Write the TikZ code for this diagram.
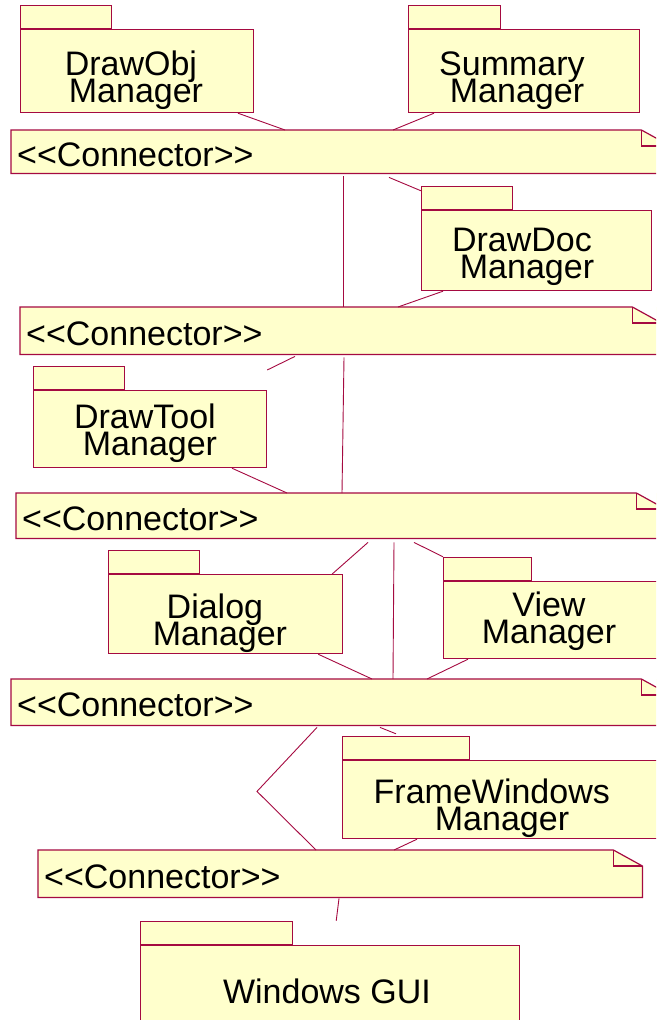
\documentclass[tikz,border=0pt]{standalone}
\usepackage{fontspec}
\setmainfont{Liberation Sans}
\definecolor{umlline}{RGB}{165,10,65}
\definecolor{umlfill}{RGB}{255,255,204}
% text face used for every label of the diagram
\newcommand\umlfont{\fontsize{34}{27}\selectfont\lineskiplimit=-1000pt\relax}
% guillemet-style stereotype, kept as plain angle brackets
\newcommand\stereo[1]{<\kern0pt<#1>\kern0pt>}

\begin{document}
\begin{tikzpicture}[x=1pt, y=-1pt,
  ink/.style={draw=umlline, line width=1.2pt},
  pkgbody/.style={ink, fill=umlfill, inner sep=0pt, anchor=north west},
  pkgtab/.style={ink, fill=umlfill, inner sep=0pt, anchor=south west, minimum height=23},
  pkgname/.style={font=\umlfont, align=center, anchor=base, inner sep=0pt},
  notebody/.style={fill=umlfill, inner sep=0pt, inner xsep=6, anchor=north west,
    font=\umlfont, align=left, text height=29, text depth=0},
  link/.style={draw=umlline, line width=0.9pt},
]
\path[use as bounding box, clip] (0,0) rectangle (656,1020);
\fill[white] (0,0) rectangle (656,1020);

% ---------- packages (name nodes sit on the baseline of their last line) ----------
\node[pkgbody, minimum width=233, minimum height=83] (dobj) at (20,29) {};
\node[pkgtab, minimum width=91] (dobjtab) at (dobj.north west) {};
\node[pkgname] (dobjname) at (136,102) {DrawObj\hspace*{.3em}\\Manager};

\node[pkgbody, minimum width=231, minimum height=83] (summ) at (408,29) {};
\node[pkgtab, minimum width=92] (summtab) at (summ.north west) {};
\node[pkgname] (summname) at (517,102) {Summary\hspace*{.3em}\\Manager};

\node[pkgbody, minimum width=230, minimum height=80] (ddoc) at (421,210) {};
\node[pkgtab, minimum width=91] (ddoctab) at (ddoc.north west) {};
\node[pkgname] (ddocname) at (527,278) {DrawDoc\hspace*{.3em}\\Manager};

\node[pkgbody, minimum width=233, minimum height=77] (dtool) at (33,390) {};
\node[pkgtab, minimum width=91] (dtooltab) at (dtool.north west) {};
\node[pkgname] (dtoolname) at (150,455) {DrawTool\hspace*{.3em}\\Manager};

\node[pkgbody, minimum width=234, minimum height=79] (dlg) at (108,574) {};
\node[pkgtab, minimum width=91] (dlgtab) at (dlg.north west) {};
\node[pkgname] (dlgname) at (220,645) {Dialog\hspace*{.3em}\\Manager};

\node[pkgbody, minimum width=217, minimum height=77] (view) at (443,581) {};
\node[pkgtab, minimum width=88] (viewtab) at (view.north west) {};
\node[pkgname] (viewname) at (549,643) {View\\Manager};

\node[pkgbody, minimum width=320, minimum height=78] (frame) at (342,760) {};
\node[pkgtab, minimum width=127] (frametab) at (frame.north west) {};
\node[pkgname] (framename) at (502,830) {FrameWindows\hspace*{.6em}\\Manager};

\node[pkgbody, minimum width=379, minimum height=90] (gui) at (140,945) {};
\node[pkgtab, minimum width=152] (guitab) at (gui.north west) {};
\node[pkgname] (guiname) at (327,1003) {Windows GUI};

% ---------- connector notes ----------
\node[notebody, text width=647, minimum height=43] (n1) at (11,130) {\stereo{Connector}};
\node[notebody, text width=629, minimum height=47] (n2) at (20,307) {\stereo{Connector}};
\node[notebody, text width=637, minimum height=45] (n3) at (16,493) {\stereo{Connector}};
\node[notebody, text width=647, minimum height=46] (n4) at (11,679) {\stereo{Connector}};
\node[notebody, text width=592, minimum height=47] (n5) at (38,850) {\stereo{Connector}};

% note outline with the folded corner
\foreach \n in {n1,n2,n3,n4,n5} {
  \fill[white] ([xshift=-29]\n.north east) -- (\n.north east) -- ([yshift=-16]\n.north east) -- cycle;
  \draw[ink, line join=miter] (\n.north west) -- ([xshift=-29]\n.north east)
    -- ([yshift=-16]\n.north east) -- (\n.south east) -- (\n.south west) -- cycle;
  \draw[ink] ([xshift=-29]\n.north east) -- ([xshift=-29,yshift=-16]\n.north east)
    -- ([yshift=-16]\n.north east);
}

% ---------- dependencies ----------
\draw[link] ([xshift=218]dobj.south west) -- ([xshift=274]n1.north west);
\draw[link] ([xshift=26]summ.south west) -- ([xshift=382]n1.north west);
\draw[link] ([xshift=378,yshift=-4]n1.south west) -- ([yshift=-5]ddoctab.north west);
\draw[link] ([xshift=332,yshift=-3]n1.south west) -- ([xshift=323]n2.north west);
\draw[link] ([xshift=22]ddoc.south west) -- ([xshift=378]n2.north west);
\draw[link] ([xshift=324,yshift=-3]n2.south west) -- ([xshift=326]n3.north west);
\draw[link] ([xshift=275,yshift=-2]n2.south west) -- ([yshift=20]dtool.north east);
\draw[link] ([xshift=199]dtool.south west) -- ([xshift=271]n3.north west);
\draw[link] ([xshift=352,yshift=-4]n3.south west) -- ([xshift=-11]dlg.north east);
\draw[link] ([xshift=378,yshift=-4]n3.south west) -- ([xshift=382]n4.north west);
\draw[link] ([xshift=398,yshift=-4]n3.south west) -- (viewtab.north west);
\draw[link] ([xshift=-25]dlg.south east) -- ([xshift=361]n4.north west);
\draw[link] ([xshift=25]view.south west) -- ([xshift=416]n4.north west);
\draw[link] ([xshift=306,yshift=-2]n4.south west) -- ++(-60,64) -- ([xshift=278]n5.north west);
\draw[link] ([xshift=369,yshift=-2]n4.south west) -- ([xshift=54,yshift=2]frametab.north west);
\draw[link] ([xshift=75]frame.south west) -- ([xshift=356]n5.north west);
\draw[link] ([xshift=301,yshift=-1]n5.south west) -- ([xshift=43]guitab.north east);
\end{tikzpicture}
\end{document}
